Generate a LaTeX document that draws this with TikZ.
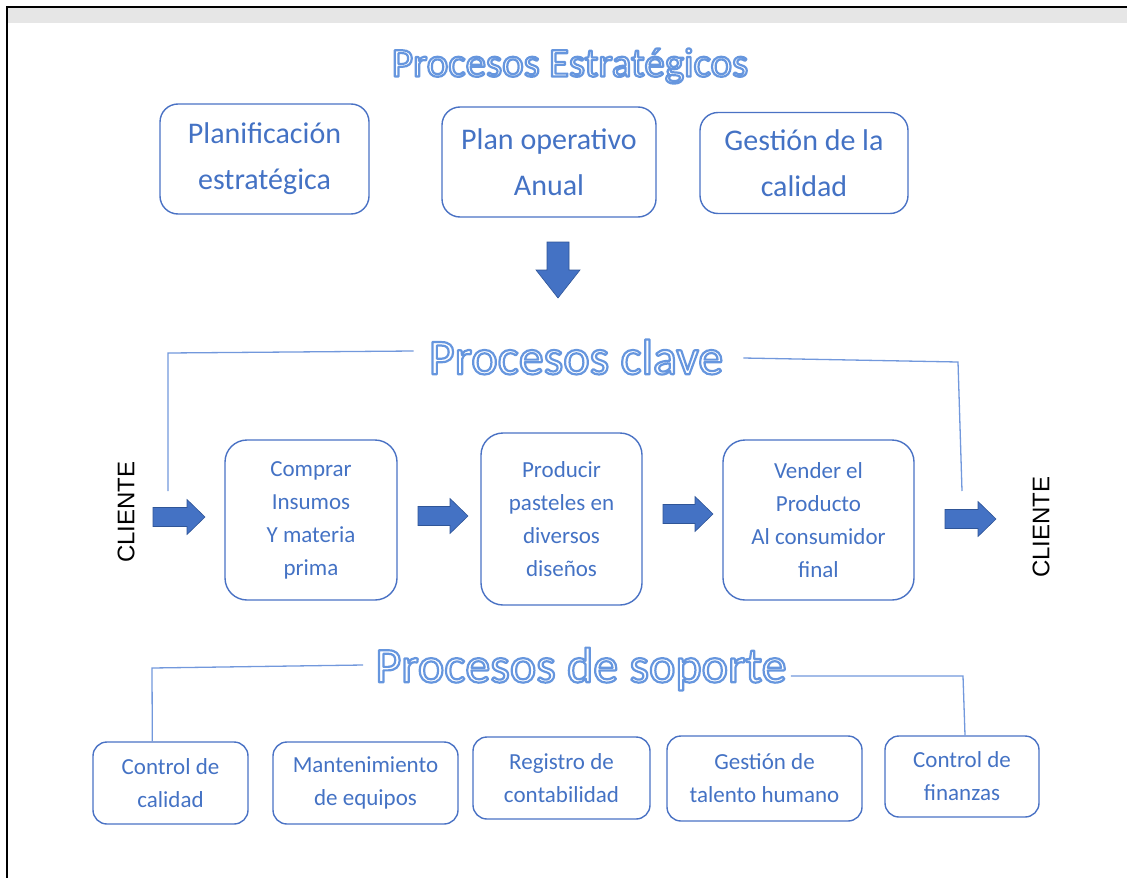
\documentclass[tikz,border=0pt]{standalone}
\usepackage{fontspec}
\setmainfont{Carlito}
\newfontfamily\arialf{Liberation Sans}
\usetikzlibrary{calc}
\definecolor{boxblue}{HTML}{4A72C4}
\definecolor{txtblue}{HTML}{4472C4}
\definecolor{lineblue}{HTML}{7298DC}
\definecolor{arrfill}{HTML}{4472C4}
\definecolor{arrdraw}{HTML}{2F5597}
\definecolor{stripgray}{HTML}{E6E6E6}
\tikzset{
  titlefont/.style={font=\fontsize{#1}{#1}\selectfont, inner sep=0pt, text=white},
  topbox/.style={draw=boxblue, line width=1.4pt, rounded corners=18pt, text=txtblue, align=center,
    font=\fontsize{30}{46}\selectfont, inner sep=0pt},
  keybox/.style={draw=boxblue, line width=1.4pt, rounded corners=22pt, text=txtblue, align=center,
    font=\fontsize{23}{33}\selectfont, inner sep=0pt},
  supbox/.style={draw=boxblue, line width=1.4pt, rounded corners=14pt, text=txtblue, align=center,
    font=\fontsize{23}{33}\selectfont, inner sep=0pt},
  conn/.style={draw=lineblue, line width=1.3pt},
  blockarr/.style={fill=arrfill, draw=arrdraw, line width=0.6pt},
  clientlbl/.style={rotate=90, font=\arialf\fontsize{24}{24}\selectfont, text=black, inner sep=0pt}
}
% outlined (hollow) title text: white fill, blue stroke
\newcommand\outlinetxt[1]{%
  \special{pdf:literal direct 0.40 0.59 0.87 RG 2.2 w 1 j 2 Tr}#1\special{pdf:literal direct 0 Tr}}
% right block arrow: x start, x end, y centre
\newcommand\rightblock[3]{%
  \path[blockarr] (#1,#3-9.5) -- (#2-18,#3-9.5) -- (#2-18,#3-17.5) -- (#2,#3)
    -- (#2-18,#3+17.5) -- (#2-18,#3+9.5) -- (#1,#3+9.5) -- cycle;}
\begin{document}
\begin{tikzpicture}[x=1pt,y=-1pt]
\useasboundingbox (0,0) rectangle (1127,878);
% frame
\fill[stripgray] (8,8) rectangle (1127,23);
\draw[line width=2pt] (7,878) -- (7,7) -- (1127,7);

% titles
\node[titlefont=41] (tstrat) at (570,66) {\outlinetxt{Procesos Estratégicos}};
\node[titlefont=50] (tclave) at (576,357) {\outlinetxt{Procesos clave}};
\node[titlefont=50] (tsop) at (581,669) {\outlinetxt{Procesos de soporte}};

% strategic boxes
\node[topbox, minimum width=209pt, minimum height=110pt] (p1) at (264.5,159) {Planificación\\estratégica};
\node[topbox, minimum width=214pt, minimum height=110pt] (p2) at (549,162) {Plan operativo\\Anual};
\node[topbox, minimum width=208pt, minimum height=101pt] (p3) at (804,163) {Gestión de la\\calidad};

% down arrow
\path[blockarr] (547,242) -- (569,242) -- (569,270) -- (580,270) -- (558,298) -- (536,270) -- (547,270) -- cycle;

% key boxes
\node[keybox, minimum width=172pt, minimum height=160pt] (k1) at (311,520) {Comprar\\Insumos\\ Y materia\\prima};
\node[keybox, minimum width=161pt, minimum height=172pt] (k2) at (561.5,519) {Producir\\pasteles en\\diversos\\diseños};
\node[keybox, minimum width=191pt, minimum height=160pt] (k3) at (818.5,520) {Vender el\\Producto\\Al consumidor\\final};

% clients
\node[clientlbl] (c1) at (126,512) {CLIENTE};
\node[clientlbl] (c2) at (1041,527) {CLIENTE};

% block arrows
\rightblock{153}{205}{517}
\rightblock{418}{468}{516}
\rightblock{663}{713}{514}
\rightblock{945}{996}{519}

% key connectors
\coordinate (kl0) at (168,491);
\coordinate (kl1) at (168,353);
\coordinate (kl2) at ($(tclave.west)+(-15,-6)$);
\draw[conn] (kl0) -- (kl1) -- (kl2);
\coordinate (kr0) at ($(tclave.east)+(20,1)$);
\coordinate (kr1) at (958,362);
\coordinate (kr2) at (962,491);
\draw[conn] (kr0) -- (kr1) -- (kr2);

% support boxes
\node[supbox, minimum width=155pt, minimum height=82pt] (s1) at (170.5,783) {Control de\\calidad};
\node[supbox, minimum width=185pt, minimum height=82pt] (s2) at (365.5,783) {Mantenimiento\\de equipos};
\node[supbox, minimum width=177pt, minimum height=82pt] (s3) at (561.5,778) {Registro de\\contabilidad};
\node[supbox, minimum width=195pt, minimum height=85pt] (s4) at (764.5,778.5) {Gestión de\\talento humano};
\node[supbox, minimum width=154pt, minimum height=81pt] (s5) at (962,776.5) {Control de\\finanzas};

% support connectors
\coordinate (sl0) at ($(s1.north west)+(60,0)$);
\coordinate (sl1) at (152,668);
\coordinate (sl2) at ($(tsop.west)+(-12,-4)$);
\draw[conn] (sl0) -- (sl1) -- (sl2);
\coordinate (sr0) at ($(tsop.east)+(4,7)$);
\coordinate (sr1) at (963,676);
\draw[conn] (sr0) -- (sr1) -- ($(s5.north)+(3,0)$);
\end{tikzpicture}
\end{document}
